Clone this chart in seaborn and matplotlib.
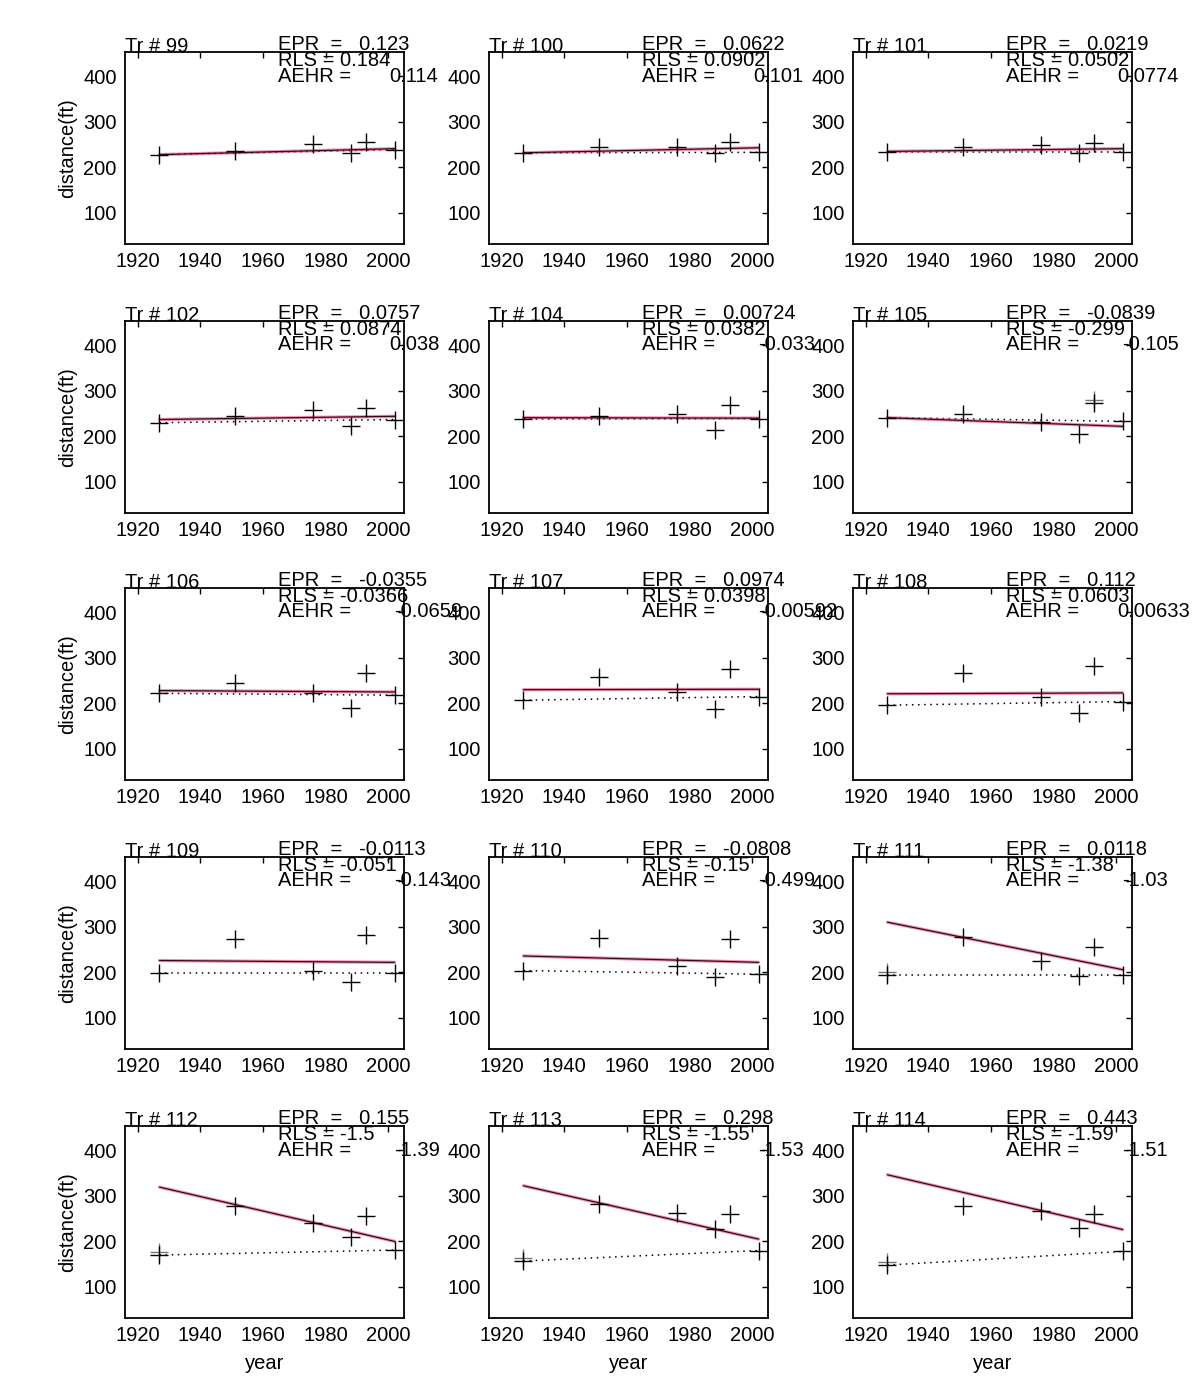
import matplotlib
matplotlib.use("Agg")
import numpy as np
import pandas as pd
import seaborn as sns
import matplotlib.pyplot as plt

sns.set_theme(style="white")
plt.rcParams['font.family'] = ['Liberation Sans', 'DejaVu Sans']
plt.rcParams['text.color'] = 'black'
plt.rcParams['axes.labelcolor'] = 'black'
plt.rcParams['xtick.color'] = 'black'
plt.rcParams['ytick.color'] = 'black'

# survey years shared by all transects
years = [1927, 1951, 1976, 1988, 1993, 2002]

transects = ['99', '100', '101', '102', '104', '105', '106', '107',
             '108', '109', '110', '111', '112', '113', '114']

# shoreline distance (ft) read at each survey year
tr99 = [228, 237, 251, 231, 256, 239]
tr100 = [232, 244, 244, 231, 255, 233]
tr101 = [233, 244, 248, 231, 253, 233]
tr102 = [230, 244, 257, 222, 263, 237]
tr104 = [238, 244, 248, 215, 269, 239]
tr105 = [241, 250, 232, 205, 274, 233]
tr106 = [222, 244, 222, 189, 267, 218]
tr107 = [207, 258, 226, 187, 275, 215]
tr108 = [196, 267, 215, 179, 283, 204]
tr109 = [198, 273, 204, 180, 283, 198]
tr110 = [204, 276, 213, 190, 274, 196]
tr111 = [194, 278, 226, 193, 256, 194]
tr112 = [170, 278, 241, 209, 256, 181]
tr113 = [157, 282, 262, 228, 260, 180]
tr114 = [148, 278, 267, 230, 259, 178]
distances = [tr99, tr100, tr101, tr102, tr104, tr105, tr106, tr107,
             tr108, tr109, tr110, tr111, tr112, tr113, tr114]

# fitted trend line, value at first and last survey
fit_start = [228, 232, 235, 237, 241, 241, 228, 230, 221, 226, 236, 310, 319, 322, 346]
fit_end = [241, 243, 241, 244, 240, 222, 225, 231, 223, 222, 222, 206, 200, 205, 226]

# surveys with a second (grey) repeat measurement
dup_year = [None, None, None, None, None, 1993, None, None,
            None, None, None, 1927, 1927, 1927, 1927]

epr = ['0.123', '0.0622', '0.0219', '0.0757', '0.00724', '-0.0839', '-0.0355', '0.0974',
       '0.112', '-0.0113', '-0.0808', '0.0118', '0.155', '0.298', '0.443']
rls = ['0.184', '0.0902', '0.0502', '0.0874', '0.0382', '-0.299', '-0.0366', '0.0398',
       '0.0603', '-0.051', '-0.15', '-1.38', '-1.5', '-1.55', '-1.59']
aehr = ['0.114', '0.101', '0.0774', '0.038', '-0.033', '-0.105', '-0.0659', '-0.00592',
        '0.00633', '-0.143', '-0.499', '-1.03', '-1.39', '-1.53', '-1.51']

W, H = 1193, 1395
fig = plt.figure(figsize=(W / 100, H / 100), dpi=100)
fig.patch.set_facecolor('white')

col_left = [125, 489, 853]
row_top = [52, 321, 588, 857, 1126]
ax_w, ax_h = 279, 192
fs = 14.5

for i, tr in enumerate(transects):
    r, c = divmod(i, 3)
    ax = fig.add_axes([col_left[c] / W, 1 - (row_top[r] + ax_h) / H, ax_w / W, ax_h / H])
    ax.set_facecolor('white')
    d = distances[i]
    df = pd.DataFrame({'year': years, 'distance': d})

    # end point line (dotted)
    sns.lineplot(x=[years[0], years[-1]], y=[d[0], d[-1]], ax=ax, color='black',
                 linestyle=(0, (1, 3)), linewidth=1.1)
    # fitted trend: red line with black line on top
    sns.lineplot(x=[years[0], years[-1]], y=[fit_start[i], fit_end[i]], ax=ax,
                 color='#e0406a', linewidth=2.4, alpha=0.55)
    sns.lineplot(x=[years[0], years[-1]], y=[fit_start[i], fit_end[i]], ax=ax,
                 color='#3a0a14', linewidth=0.9)
    sns.scatterplot(data=df, x='year', y='distance', ax=ax, marker='+', s=180,
                    color='black', linewidth=1.0, zorder=5)
    if dup_year[i] is not None:
        j = years.index(dup_year[i])
        sns.scatterplot(x=[dup_year[i]], y=[d[j] + 6], ax=ax, marker='+', s=180,
                        color='#777777', linewidth=1.0, zorder=4)

    ax.set_xlim(1916, 2005)
    ax.set_ylim(32, 453)
    ax.set_xticks([1920, 1940, 1960, 1980, 2000])
    ax.set_yticks([100, 200, 300, 400])
    ax.tick_params(direction='in', top=True, right=True, length=4, width=1,
                   labelsize=fs, pad=6, colors='black')
    for s in ax.spines.values():
        s.set_color('black')
        s.set_linewidth(1.3)

    ax.set_xlabel('year' if r == 4 else '', fontsize=fs, labelpad=6)
    ax.set_ylabel('distance(ft)' if c == 0 else '', fontsize=fs, labelpad=4)

    ax.text(0.0, 1.0, 'Tr # ' + tr, transform=ax.transAxes, fontsize=fs,
            ha='left', va='baseline')
    ax.text(0.548, 1.04, 'EPR  =   ' + epr[i], transform=ax.transAxes, fontsize=fs,
            ha='left', va='center')
    ax.text(0.548, 0.955, 'RLS = ' + rls[i], transform=ax.transAxes, fontsize=fs,
            ha='left', va='center')
    ax.text(0.548, 0.875, 'AEHR =', transform=ax.transAxes, fontsize=fs,
            ha='left', va='center')
    vx = 0.946 if not aehr[i].startswith('-') else 0.965
    ax.text(vx, 0.875, aehr[i], transform=ax.transAxes, fontsize=fs,
            ha='left', va='center')

fig.savefig('out.png', dpi=100, facecolor='white')
